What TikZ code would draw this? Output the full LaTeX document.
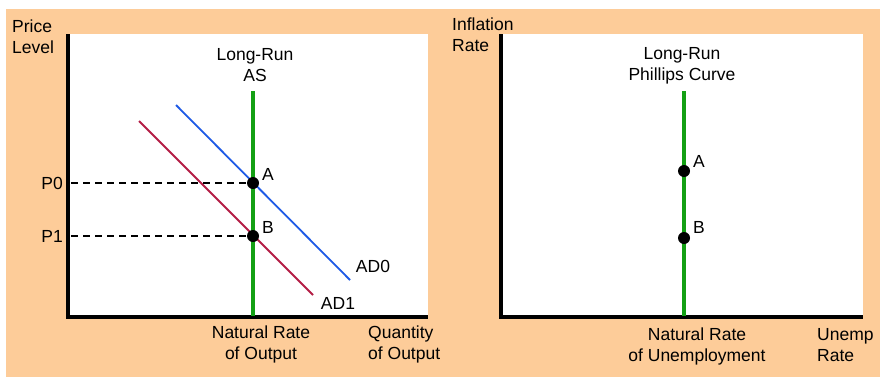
\documentclass[tikz,border=0pt]{standalone}
\usepackage{fontspec}
\setmainfont{Liberation Sans}
\definecolor{peach}{RGB}{253,204,153}
\definecolor{lrgreen}{RGB}{20,160,20}
\definecolor{adblue}{RGB}{30,90,230}
\definecolor{adred}{RGB}{180,30,70}

\begin{document}
\begin{tikzpicture}[
    x=1pt, y=-1pt,
    font=\fontsize{17.5}{21}\selectfont,
    lbl/.style={
        align=center,
        inner sep=0pt
    },
    axis/.style={
        line width=3.5pt
    },
    lrline/.style={
        draw=lrgreen,
        line width=3.2pt
    },
    dot/.style={
        circle,
        fill=black,
        inner sep=0pt,
        minimum size=12pt
    },
    guide/.style={
        line width=1.5pt,
        dash pattern=on 7pt off 5pt
    },
    adline/.style={
        line width=1.8pt
    }
]

\useasboundingbox (0,0) rectangle (880,378);
\fill[white] (0,0) rectangle (880,378);
\fill[peach] (6,9) rectangle (880,377);
\fill[white] (68,34) rectangle (428,317);
\fill[white] (501,34) rectangle (863,317);

% left panel: AS-AD
\draw[axis] (68,34) -- (68,317) -- (428,317);

\coordinate (lrasTop) at (253,91);
\coordinate (lrasBot) at (253,316);
\draw[lrline] (lrasTop) -- (lrasBot);

\coordinate (ad0s) at (176,105);
\coordinate (ad0e) at (350,280);
\coordinate (ad1s) at (139,121);
\coordinate (ad1e) at (313,295);
\draw[adline, adblue] (ad0s) -- (ad0e);
\draw[adline, adred] (ad1s) -- (ad1e);

\node[dot] (ptA) at (253,183) {};
\node[dot] (ptB) at (253,236) {};

\node[lbl, anchor=east] (p0lbl) at (63,183) {P0};
\node[lbl, anchor=east] (p1lbl) at (63,236) {P1};
\coordinate (p0) at (71,183);
\coordinate (p1) at (71,236);
\draw[guide] (p0) -- (ptA);
\draw[guide] (p1) -- (ptB);

\node[lbl] (lblA) at (268,174) {A};
\node[lbl] (lblB) at (268,227) {B};
\node[lbl] (ad0lbl) at (373,266) {AD0};
\node[lbl] (ad1lbl) at (338,303) {AD1};

\node[lbl] (lras) at (255,65) {Long-Run\\AS};
\node[lbl, align=left, anchor=west] (plevel) at (12,37) {Price\\Level};
\node[lbl] (natout) at (261,344) {Natural Rate\\of Output};
\node[lbl, align=left, anchor=west] (qout) at (368,344) {Quantity\\of Output};

% right panel: Phillips curve
\draw[axis] (501,34) -- (501,317) -- (863,317);

\coordinate (lrpcTop) at (684,91);
\coordinate (lrpcBot) at (684,316);
\draw[lrline] (lrpcTop) -- (lrpcBot);

\node[dot] (pcA) at (684,171) {};
\node[dot] (pcB) at (684,238) {};
\node[lbl] (pcAlbl) at (699,161) {A};
\node[lbl] (pcBlbl) at (699,227) {B};

\node[lbl] (lrpc) at (682,66) {Long-Run\\Phillips Curve};
\node[lbl, align=left, anchor=west] (infl) at (452,35) {Inflation\\Rate};
\node[lbl] (natun) at (697,346) {Natural Rate\\of Unemployment};
\node[lbl, align=left, anchor=west] (unemp) at (817,345) {Unemp\\Rate};

\end{tikzpicture}
\end{document}
